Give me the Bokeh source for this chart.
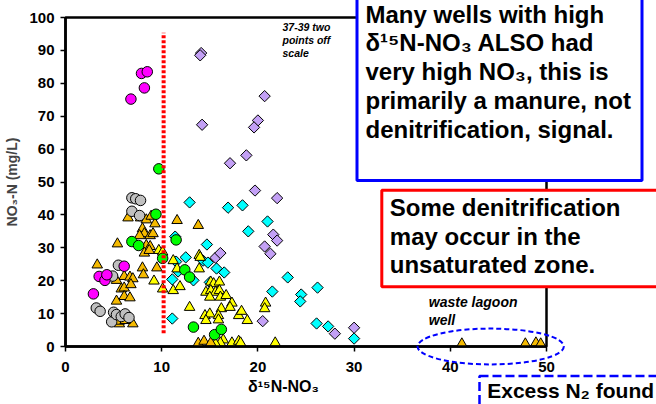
from bokeh.plotting import figure
from bokeh.models import FixedTicker
from bokeh.core.properties import value
from bokeh.embed import file_html
from bokeh.resources import INLINE

# ---------------- data ----------------
x_ticks = [0, 10, 20, 30, 40, 50]
y_ticks = [0, 10, 20, 30, 40, 50, 60, 70, 80, 90, 100]

gray_x = [6.9, 7.3, 7.8, 6.9, 7.7, 5.5, 4.9, 3.2, 3.6, 4.8, 5.0, 5.3, 5.8, 6.2, 6.6]
gray_y = [45.2, 44.9, 44.4, 41.1, 39.8, 24.7, 21.4, 11.7, 10.7, 7.5, 10.4, 9.7, 9.1, 9.9, 8.8]

magenta_x = [6.8, 7.9, 8.5, 8.2, 2.9, 3.5, 4.1, 4.3, 6.1]
magenta_y = [75.2, 83.0, 83.5, 78.6, 16.0, 21.3, 20.1, 21.8, 24.4]

green_x = [9.7, 9.4, 6.9, 7.6, 10.1, 11.5, 12.4, 12.9, 13.3, 15.5, 16.2]
green_y = [54.0, 40.2, 31.9, 30.7, 26.8, 32.4, 23.3, 21.1, 5.9, 3.6, 5.2]

cyan_x = [12.9, 16.9, 18.4, 21.0, 19.0, 14.7, 12.5, 11.5, 11.7, 11.4, 14.3, 14.8, 15.7,
          16.5, 13.3, 11.1, 11.1, 15.0, 23.1, 21.5, 26.2, 24.5, 24.4, 26.1, 27.3, 30.0]
cyan_y = [43.8, 42.2, 42.9, 38.0, 35.0, 31.0, 27.1, 25.8, 22.8, 33.4, 26.1, 25.5, 23.7,
          22.5, 20.1, 20.4, 8.5, 19.5, 21.0, 16.7, 17.9, 15.8, 13.7, 7.0, 6.1, 2.4]

lavender_x = [14.1, 14.0, 14.2, 20.7, 20.0, 19.6, 18.8, 17.1, 19.7, 22.0, 21.6, 22.0,
              20.7, 21.3, 20.5, 28.0, 30.0, 15.6, 16.1]
lavender_y = [89.2, 88.5, 67.4, 76.1, 68.7, 66.6, 58.1, 55.7, 47.4, 45.1, 34.0, 32.2,
              30.4, 28.2, 7.7, 3.9, 5.7, 27.0, 28.4]

orange_x = [3.3, 5.4, 6.5, 7.8, 8.4, 8.9, 9.3, 8.0, 8.2, 7.7, 8.8, 9.1, 8.4, 8.8, 8.2,
            8.7, 9.5, 8.0, 8.1, 6.1, 5.3, 5.8, 6.1, 6.7, 7.0, 6.8, 6.1, 6.7, 5.3, 5.6,
            5.6, 7.0, 6.2, 11.6, 13.8, 13.8, 14.4, 15.1, 41.2, 47.8, 48.9, 49.4]
orange_y = [24.8, 31.2, 39.1, 39.1, 38.5, 39.6, 37.3, 35.8, 34.3, 33.7, 33.7, 34.3, 30.7,
            30.4, 28.4, 29.2, 23.9, 23.9, 21.8, 21.3, 20.1, 17.5, 17.8, 21.1, 20.6, 18.8,
            15.2, 14.8, 13.8, 6.9, 7.7, 6.9, 7.9, 38.3, 36.8, 1.0, 1.6, 1.1, 0.8, 0.8,
            1.1, 0.8]

yellow_x = [9.7, 10.1, 9.2, 10.1, 11.2, 11.2, 11.6, 11.9, 12.9, 13.9, 13.9, 15.1, 15.4,
            16.0, 14.6, 15.1, 15.6, 16.0, 15.0, 16.1, 16.7, 17.3, 16.2, 14.5, 15.0, 15.9,
            14.6, 15.9, 18.0, 18.3, 18.9, 20.8, 20.7, 21.8, 17.3, 18.0, 18.2, 16.4, 16.1,
            15.6, 14.0, 17.1]
yellow_y = [29.2, 28.7, 19.9, 17.5, 17.0, 26.1, 23.6, 18.2, 11.9, 27.7, 23.6, 19.6, 19.1,
            19.6, 16.5, 17.0, 16.5, 17.0, 15.0, 15.0, 15.5, 13.2, 11.5, 9.4, 9.9, 9.4,
            7.9, 8.1, 9.4, 10.7, 7.9, 13.2, 11.5, 1.1, 1.1, 1.6, 1.1, 2.0, 1.1, 0.8,
            27.1, 11.9]

threshold_x = 10.2          # red dotted reference line
threshold_y = [4.0, 95.4]

lagoon_x, lagoon_y, lagoon_w, lagoon_h = 44.2, 0.0, 15.2, 10.9   # dashed ellipse

x_label = "δ¹⁵N-NO₃"
y_label = "NO₃-N (mg/L)"
blue_lines = ["Many wells with high", "δ¹⁵N-NO₃ ALSO had", "very high NO₃, this is",
              "primarily a manure, not", "denitrification, signal."]
red_lines = ["Some denitrification", "may occur in the", "unsaturated zone."]
scale_note = ["37-39 two", "points off", "scale"]
lagoon_note = ["waste lagoon", "well"]
excess_note = "Excess N₂ found"

# ---------------- layout helpers ----------------
W, H = 656, 404
FL, FR, FT, FB = 65, 546, 17, 346
X0, X1, Y0, Y1 = 0, 50, 0, 100


def dx(px):
    return X0 + (px - FL) * (X1 - X0) / (FR - FL)


def dy(py):
    return Y0 + (FB - py) * (Y1 - Y0) / (FB - FT)


FONT = "Liberation Sans"

p = figure(width=W, height=H, x_range=(X0, X1), y_range=(Y0, Y1),
           output_backend="svg", toolbar_location=None,
           min_border_left=FL, min_border_right=W - FR,
           min_border_top=FT, min_border_bottom=H - FB,
           background_fill_color="white", border_fill_color="white")
p.grid.visible = False
p.outline_line_color = "black"
p.outline_line_width = 2.5
p.outline_line_alpha = 1.0

for ax in (p.xaxis[0], p.yaxis[0]):
    ax.axis_line_width = 2.5
    ax.axis_line_color = "black"
    ax.major_tick_line_width = 1.5
    ax.major_tick_out = 5
    ax.major_tick_in = 0
    ax.minor_tick_out = 0
    ax.minor_tick_in = 0
    ax.major_label_text_font = FONT
    ax.major_label_text_font_style = "bold"
    ax.major_label_text_font_size = "15px"
    ax.major_label_text_color = "black"

p.xaxis.ticker = FixedTicker(ticks=x_ticks)
p.yaxis.ticker = FixedTicker(ticks=y_ticks)
p.xaxis.major_label_standoff = 10
p.yaxis.major_label_standoff = 6
p.yaxis.axis_label = y_label
p.yaxis.axis_label_text_font = FONT
p.yaxis.axis_label_text_font_style = "bold"
p.yaxis.axis_label_text_font_size = "14px"
p.yaxis.axis_label_standoff = 6

# ---------------- data marks ----------------
MS = dict(line_color="black", line_width=1)
p.scatter(cyan_x, cyan_y, marker="square", angle=0.7854, size=8, fill_color="#00FFFF", **MS)
p.scatter(lavender_x, lavender_y, marker="square", angle=0.7854, size=8, fill_color="#C3A0F5", **MS)
p.scatter(yellow_x, yellow_y, marker="triangle", size=10.5, fill_color="#FFFF00", **MS)
p.scatter(orange_x, orange_y, marker="triangle", size=10.5, fill_color="#F5BA00", **MS)
p.scatter(gray_x, gray_y, marker="circle", size=10.5, fill_color="#C0C0C0", **MS)
p.scatter(magenta_x, magenta_y, marker="circle", size=10.5, fill_color="#FF00FF", **MS)
p.scatter(green_x, green_y, marker="circle", size=10.5, fill_color="#00FF00", **MS)

p.line([threshold_x, threshold_x], threshold_y, line_color="#FF0000", line_width=4,
       line_dash="3 2")

# ---------------- annotations (drawn unclipped on the overlay level) ----------------
p.ellipse(x=[lagoon_x], y=[lagoon_y], width=[lagoon_w], height=[lagoon_h],
          fill_color=None, line_color="#0000FF", line_width=2, line_dash="5 3",
          level="overlay")

p.quad(left=[dx(356.5)], right=[dx(641.5)], top=[dy(-10)], bottom=[dy(180)],
       fill_color="white", line_color="#0000FF", line_width=3, level="overlay")
p.quad(left=[dx(381.3)], right=[dx(720)], top=[dy(189.7)], bottom=[dy(286.3)],
       fill_color="white", line_color="#FF0000", line_width=3, level="overlay")
p.quad(left=[dx(479)], right=[dx(740)], top=[dy(375.5)], bottom=[dy(460)],
       fill_color="white", line_color="#0000FF", line_width=2.5, line_dash="9 4",
       level="overlay")

TXT = dict(text_font=value(FONT), text_color="black", text_align="left",
           text_baseline="alphabetic", level="overlay")

p.text(x=[dx(365)] * len(blue_lines), y=[dy(13.5 + 28.75 * i) for i in range(len(blue_lines))],
       text=blue_lines, text_font_style="bold", text_font_size="24px", **TXT)
p.text(x=[dx(389.3)] * len(red_lines), y=[dy(207 + 28.7 * i) for i in range(len(red_lines))],
       text=red_lines, text_font_style="bold", text_font_size="24px", **TXT)
p.text(x=[dx(486.7)], y=[dy(389.5)], text=[excess_note], text_font_style="bold",
       text_font_size="21px", **TXT)
p.text(x=[dx(282)] * len(scale_note), y=[dy(26.5 + 12.9 * i) for i in range(len(scale_note))],
       text=scale_note, text_font_style="bold italic", text_font_size="10.5px", **TXT)
p.text(x=[dx(428.3)] * len(lagoon_note), y=[dy(301.5 + 17.7 * i) for i in range(len(lagoon_note))],
       text=lagoon_note, text_font_style="bold italic", text_font_size="14px", **TXT)

# x axis title (sits left of the frame centre in the reference)
p.text(x=[dx(283)], y=[dy(386)], text=[x_label], text_font=value(FONT),
       text_font_style="bold", text_font_size="16px", text_align="center",
       text_baseline="alphabetic", text_color="black", level="overlay")

open("out.html", "w").write(file_html(p, INLINE))
